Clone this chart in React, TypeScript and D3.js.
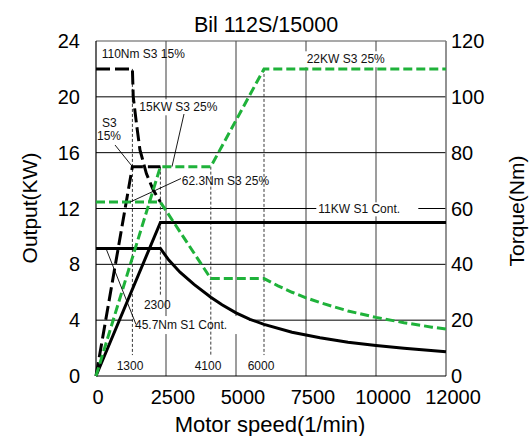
import React from "react";
import * as d3 from "d3";

// ---------- data ----------
const speedTicks = [0, 2500, 5000, 7500, 10000, 12500];
const speedTickLabels = ["0", "2500", "5000", "7500", "10000", "12000"];
const powerTicks = [0, 4, 8, 12, 16, 20, 24];
const torqueTicks = [0, 20, 40, 60, 80, 100, 120];

// S1 continuous (black solid)
const s1Power: [number, number][] = [[0, 0], [2300, 11], [12500, 11]];
const s1Torque: [number, number][] = [
  [0, 45.7], [2300, 45.7], [2600, 41.5], [3000, 37.2], [3500, 32.8], [4100, 28.2],
  [4500, 25.5], [5000, 22.6], [5500, 20.3], [6000, 18.5], [7000, 15.7], [8000, 13.7],
  [9000, 12.1], [10000, 10.9], [11000, 9.9], [12500, 8.7],
];
// S3 15% (black dashed)
const s3a15Power: [number, number][] = [[0, 0], [1300, 15], [2300, 15]];
const s3a15Torque: [number, number][] = [
  [0, 110], [1300, 110], [1330, 100], [1450, 90], [1570, 81], [1800, 72.5],
  [2050, 66.5], [2300, 62.3],
];
// S3 25% (green dashed)
const s3b25Power: [number, number][] = [[0, 0], [2300, 15], [4100, 15], [6000, 22], [12500, 22]];
const s3b25Torque: [number, number][] = [
  [0, 62.3], [2300, 62.3], [4100, 34.9], [6000, 34.9], [6500, 32.3], [7000, 30],
  [7500, 28], [8000, 26.3], [9000, 23.3], [10000, 21], [11000, 19.1], [12000, 17.5],
  [12500, 16.8],
];

// marker speeds with thin dashed verticals
const markerSpeeds = [1300, 2300, 4100, 6000];
const markerTopKW = [22, 15, 15, 22];
const markerBottomKW = [1.5, 5.8, 1.5, 1.5];
const markerLabels = ["1300", "2300", "4100", "6000"];
const markerLabelSpeed = [1214, 2189, 4000, 5893];
const markerLabelKW = [0.72, 5.09, 0.72, 0.72];

// ---------- layout ----------
const W = 531, H = 436;
const L = 96, R = 446, T = 41, B = 376;
const GREEN = "#1fb23a";
const FONT = "'Liberation Sans', Arial, sans-serif";

export default function App() {
  const x = d3.scaleLinear().domain([0, 12500]).range([L, R]);
  const yP = d3.scaleLinear().domain([0, 24]).range([B, T]);
  const yT = d3.scaleLinear().domain([0, 120]).range([B, T]);

  const lineP = d3.line<[number, number]>().x((d) => x(d[0])).y((d) => yP(d[1]));
  const lineT = d3.line<[number, number]>().x((d) => x(d[0])).y((d) => yT(d[1]));

  const small = { fontFamily: FONT, fontSize: 12, fill: "#111" } as const;

  return (
    <svg width={W} height={H} style={{ position: "absolute", left: 0, top: 0, background: "#fff" }}>
      <rect x={0} y={0} width={W} height={H} fill="#fff" />
      {/* vertical grid */}
      {speedTicks.slice(1, -1).map((v) => (
        <line key={"vg" + v} x1={x(v)} x2={x(v)} y1={T} y2={B} stroke="#858585" strokeWidth={1.6} />
      ))}
      {/* horizontal grid */}
      {powerTicks.slice(1, -1).map((v) => (
        <line key={"hg" + v} x1={L} x2={R} y1={yP(v)} y2={yP(v)} stroke="#000" strokeWidth={1} />
      ))}
      {/* label backgrounds that interrupt the grid */}
      <rect x={x(7525) - 2} y={yP(22.69) - 8} width={84} height={16} fill="#fff" />
      <rect x={x(1546) - 2} y={yP(19.25) - 8} width={84} height={16} fill="#fff" />
      <rect x={x(7939) - 2} y={yP(11.94) - 7} width={102} height={14} fill="#fff" />
      <rect x={x(1393) - 2} y={yP(3.65) - 9} width={116} height={18} fill="#fff" />

      {/* frame */}
      <line x1={L} x2={R} y1={T} y2={T} stroke="#555" strokeWidth={1.2} />
      <line x1={R} x2={R} y1={T} y2={B} stroke="#777" strokeWidth={1.6} />
      <line x1={L} x2={L} y1={T} y2={B} stroke="#000" strokeWidth={1.2} />
      <line x1={L} x2={R} y1={B} y2={B} stroke="#000" strokeWidth={1.2} />

      {/* thin dashed markers */}
      {markerSpeeds.map((s, i) => (
        <line key={"m" + s} x1={x(s)} x2={x(s)} y1={yP(markerTopKW[i])} y2={yP(markerBottomKW[i])}
          stroke="#222" strokeWidth={0.9} strokeDasharray="3,2" />
      ))}

      {/* curves */}
      <path d={lineP(s1Power)!} fill="none" stroke="#000" strokeWidth={3} />
      <path d={lineT(s1Torque)!} fill="none" stroke="#000" strokeWidth={3} />
      <path d={lineP(s3a15Power)!} fill="none" stroke="#000" strokeWidth={3} strokeDasharray="14,5" />
      <path d={lineT(s3a15Torque)!} fill="none" stroke="#000" strokeWidth={3} strokeDasharray="14,5" />
      <path d={lineP(s3b25Power)!} fill="none" stroke={GREEN} strokeWidth={3} strokeDasharray="9,4" />
      <path d={lineT(s3b25Torque)!} fill="none" stroke={GREEN} strokeWidth={3} strokeDasharray="9,4" />

      {/* leaders */}
      <line x1={x(679)} y1={yP(16.55)} x2={x(1300)} y2={yP(15)} stroke="#000" strokeWidth={0.9} />
      <line x1={x(3143)} y1={yP(18.77)} x2={x(2714)} y2={yP(15)} stroke="#000" strokeWidth={0.9} />
      <line x1={x(3036)} y1={yP(14.15)} x2={x(1214)} y2={yT(62.3)} stroke="#000" strokeWidth={0.9} />
      <line x1={x(1428)} y1={yP(3.7)} x2={x(357)} y2={yT(45.7)} stroke="#000" strokeWidth={0.9} />

      {/* annotation text */}
      <text x={x(204)} y={yP(23.09)} dominantBaseline="central" {...small}>110Nm S3 15%</text>
      <text x={x(7525)} y={yP(22.69)} dominantBaseline="central" {...small}>22KW S3 25%</text>
      <text x={x(1546)} y={yP(19.25)} dominantBaseline="central" {...small}>15KW S3 25%</text>
      <text x={x(475)} y={yP(18.1)} textAnchor="middle" dominantBaseline="central" {...small}>S3</text>
      <text x={x(464)} y={yP(17.19)} textAnchor="middle" dominantBaseline="central" {...small}>15%</text>
      <text x={x(3061)} y={yP(13.99)} dominantBaseline="central" {...small}>62.3Nm S3 25%</text>
      <text x={x(7939)} y={yP(11.94)} dominantBaseline="central" {...small}>11KW S1 Cont.</text>
      <text x={x(1393)} y={yP(3.65)} dominantBaseline="central" {...small}>45.7Nm S1 Cont.</text>
      {markerLabels.map((t, i) => (
        <text key={"ml" + t} x={x(markerLabelSpeed[i])} y={yP(markerLabelKW[i])} textAnchor="middle"
          dominantBaseline="central" {...small}>{t}</text>
      ))}

      {/* axes tick labels */}
      {powerTicks.map((v) => (
        <text key={"pl" + v} x={80} y={yP(v)} textAnchor="end" dominantBaseline="central"
          fontFamily={FONT} fontSize={20} fill="#000">{v}</text>
      ))}
      {torqueTicks.map((v) => (
        <text key={"tl" + v} x={451} y={yT(v)} textAnchor="start" dominantBaseline="central"
          fontFamily={FONT} fontSize={20} fill="#000">{v}</text>
      ))}
      {speedTicks.map((v, i) => (
        <text key={"sl" + v} x={x(v) + (i === 0 ? 2 : 7)} y={404} textAnchor="middle"
          fontFamily={FONT} fontSize={20} fill="#000">{speedTickLabels[i]}</text>
      ))}

      {/* titles */}
      <text x={266} y={31.5} textAnchor="middle" fontFamily={FONT} fontSize={21.5} fill="#000">Bil 112S/15000</text>
      <text x={270} y={431.5} textAnchor="middle" fontFamily={FONT} fontSize={22} fill="#000">Motor speed(1/min)</text>
      <text transform="translate(37,208) rotate(-90)" textAnchor="middle" fontFamily={FONT} fontSize={21} fill="#000">Output(KW)</text>
      <text transform="translate(524,211) rotate(-90)" textAnchor="middle" fontFamily={FONT} fontSize={21} fill="#000">Torque(Nm)</text>
    </svg>
  );
}
